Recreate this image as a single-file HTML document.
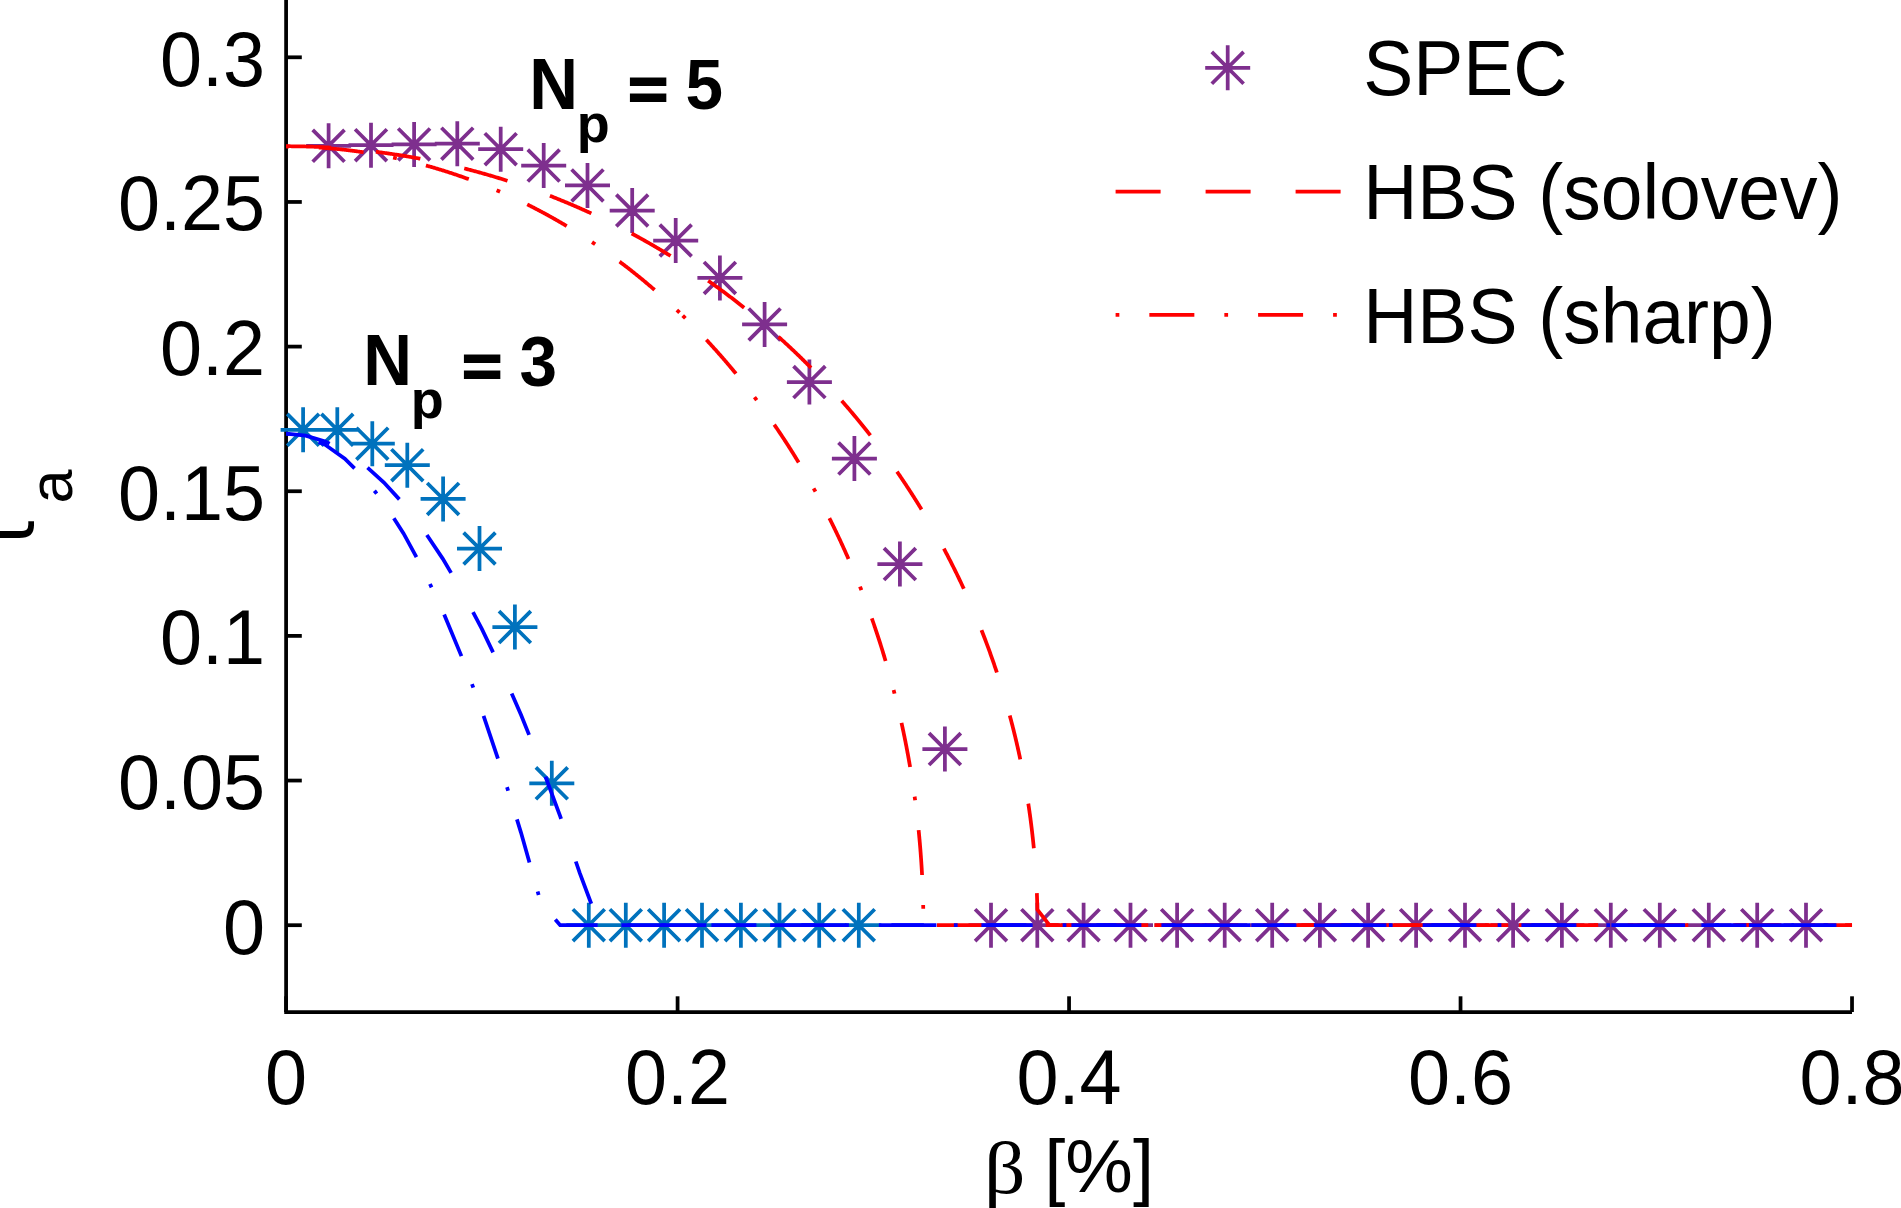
<!DOCTYPE html>
<html lang="en"><head><meta charset="utf-8"><title>iota_a versus beta</title>
<style>
html,body{margin:0;padding:0;background:#fff;}
body{width:1901px;height:1208px;overflow:hidden;}
svg{display:block;}
text{font-family:"Liberation Sans",sans-serif;fill:#000;}
.t{font-size:75px;}
.b{font-size:67.5px;font-weight:bold;}
.sy{font-family:"Liberation Serif",serif;}
</style></head><body>
<svg width="1901" height="1208" viewBox="0 0 1901 1208">
<rect width="1901" height="1208" fill="#fff"/>
<g stroke="#000" stroke-width="3.75" fill="none">
<path d="M286.1 -10V1012"/>
<path d="M284.23 1012H1852.02"/>
<path d="M286.1 1012V996.3"/>
<path d="M677.58 1012V996.3"/>
<path d="M1069.06 1012V996.3"/>
<path d="M1460.54 1012V996.3"/>
<path d="M1852.02 1012V996.3"/>
<path d="M286.1 925.2H301.8"/>
<path d="M286.1 780.55H301.8"/>
<path d="M286.1 635.9H301.8"/>
<path d="M286.1 491.25H301.8"/>
<path d="M286.1 346.6H301.8"/>
<path d="M286.1 201.95H301.8"/>
<path d="M286.1 57.3H301.8"/>
</g>
<text class="t" transform="translate(286.1 1103.6) scale(1.008 1.03)" text-anchor="middle">0</text>
<text class="t" transform="translate(677.58 1103.6) scale(1.008 1.03)" text-anchor="middle">0.2</text>
<text class="t" transform="translate(1069.06 1103.6) scale(1.008 1.03)" text-anchor="middle">0.4</text>
<text class="t" transform="translate(1460.54 1103.6) scale(1.008 1.03)" text-anchor="middle">0.6</text>
<text class="t" transform="translate(1852.02 1103.6) scale(1.008 1.03)" text-anchor="middle">0.8</text>
<text class="t" transform="translate(265 953.5) scale(1.008 1.03)" text-anchor="end">0</text>
<text class="t" transform="translate(265 808.85) scale(1.008 1.03)" text-anchor="end">0.05</text>
<text class="t" transform="translate(265 664.2) scale(1.008 1.03)" text-anchor="end">0.1</text>
<text class="t" transform="translate(265 519.55) scale(1.008 1.03)" text-anchor="end">0.15</text>
<text class="t" transform="translate(265 374.9) scale(1.008 1.03)" text-anchor="end">0.2</text>
<text class="t" transform="translate(265 230.25) scale(1.008 1.03)" text-anchor="end">0.25</text>
<text class="t" transform="translate(265 85.6) scale(1.008 1.03)" text-anchor="end">0.3</text>
<text class="t sy" transform="translate(983.9 1192.6) scale(1.087 1.0)" text-anchor="start">β</text>
<text class="t" transform="translate(1044.2 1191.8) scale(1.014 1.0)" text-anchor="start">[%]</text>
<g transform="translate(33.5 543.9) rotate(-90)">
<text class="t" transform="translate(0 0) scale(1.0 1.0)" text-anchor="start" style="font-family:'DejaVu Sans',sans-serif">ι</text>
<text class="t" transform="translate(40.4 38) scale(1.02 1.02)" text-anchor="start" style="font-size:60px">a</text>
</g>
<path d="M306.1 145.8H351.1M328.6 123.3V168.3M312.69 129.89L344.51 161.71M312.69 161.71L344.51 129.89M348.5 145.2H393.5M371 122.7V167.7M355.09 129.29L386.91 161.11M355.09 161.11L386.91 129.29M391.6 144.4H436.6M414.1 121.9V166.9M398.19 128.49L430.01 160.31M398.19 160.31L430.01 128.49M434.8 143.7H479.8M457.3 121.2V166.2M441.39 127.79L473.21 159.61M441.39 159.61L473.21 127.79M478.2 149.2H523.2M500.7 126.7V171.7M484.79 133.29L516.61 165.11M484.79 165.11L516.61 133.29M521.2 165.6H566.2M543.7 143.1V188.1M527.79 149.69L559.61 181.51M527.79 181.51L559.61 149.69M565 185.4H610M587.5 162.9V207.9M571.59 169.49L603.41 201.31M571.59 201.31L603.41 169.49M609.7 210.5H654.7M632.2 188V233M616.29 194.59L648.11 226.41M616.29 226.41L648.11 194.59M653.2 240.5H698.2M675.7 218V263M659.79 224.59L691.61 256.41M659.79 256.41L691.61 224.59M697.4 277.9H742.4M719.9 255.4V300.4M703.99 261.99L735.81 293.81M703.99 293.81L735.81 261.99M742.1 324.4H787.1M764.6 301.9V346.9M748.69 308.49L780.51 340.31M748.69 340.31L780.51 308.49M786.9 382.1H831.9M809.4 359.6V404.6M793.49 366.19L825.31 398.01M793.49 398.01L825.31 366.19M831.9 458.6H876.9M854.4 436.1V481.1M838.49 442.69L870.31 474.51M838.49 474.51L870.31 442.69M877.4 564.1H922.4M899.9 541.6V586.6M883.99 548.19L915.81 580.01M883.99 580.01L915.81 548.19M922.4 749.1H967.4M944.9 726.6V771.6M928.99 733.19L960.81 765.01M928.99 765.01L960.81 733.19M968.5 925.2H1013.5M991 902.7V947.7M975.09 909.29L1006.91 941.11M975.09 941.11L1006.91 909.29M1014.8 925.2H1059.8M1037.3 902.7V947.7M1021.39 909.29L1053.21 941.11M1021.39 941.11L1053.21 909.29M1061.1 925.2H1106.1M1083.6 902.7V947.7M1067.69 909.29L1099.51 941.11M1067.69 941.11L1099.51 909.29M1108 925.2H1153M1130.5 902.7V947.7M1114.59 909.29L1146.41 941.11M1114.59 941.11L1146.41 909.29M1154.6 925.2H1199.6M1177.1 902.7V947.7M1161.19 909.29L1193.01 941.11M1161.19 941.11L1193.01 909.29M1202.2 925.2H1247.2M1224.7 902.7V947.7M1208.79 909.29L1240.61 941.11M1208.79 941.11L1240.61 909.29M1249.7 925.2H1294.7M1272.2 902.7V947.7M1256.29 909.29L1288.11 941.11M1256.29 941.11L1288.11 909.29M1297.4 925.2H1342.4M1319.9 902.7V947.7M1303.99 909.29L1335.81 941.11M1303.99 941.11L1335.81 909.29M1345.6 925.2H1390.6M1368.1 902.7V947.7M1352.19 909.29L1384.01 941.11M1352.19 941.11L1384.01 909.29M1393.6 925.2H1438.6M1416.1 902.7V947.7M1400.19 909.29L1432.01 941.11M1400.19 941.11L1432.01 909.29M1442.5 925.2H1487.5M1465 902.7V947.7M1449.09 909.29L1480.91 941.11M1449.09 941.11L1480.91 909.29M1490.6 925.2H1535.6M1513.1 902.7V947.7M1497.19 909.29L1529.01 941.11M1497.19 941.11L1529.01 909.29M1539.4 925.2H1584.4M1561.9 902.7V947.7M1545.99 909.29L1577.81 941.11M1545.99 941.11L1577.81 909.29M1588.3 925.2H1633.3M1610.8 902.7V947.7M1594.89 909.29L1626.71 941.11M1594.89 941.11L1626.71 909.29M1637.3 925.2H1682.3M1659.8 902.7V947.7M1643.89 909.29L1675.71 941.11M1643.89 941.11L1675.71 909.29M1686.3 925.2H1731.3M1708.8 902.7V947.7M1692.89 909.29L1724.71 941.11M1692.89 941.11L1724.71 909.29M1734.7 925.2H1779.7M1757.2 902.7V947.7M1741.29 909.29L1773.11 941.11M1741.29 941.11L1773.11 909.29M1783.5 925.2H1828.5M1806 902.7V947.7M1790.09 909.29L1821.91 941.11M1790.09 941.11L1821.91 909.29" stroke="#7e2f8e" stroke-width="3.75" fill="none"/>
<polyline points="286.1,146.23 286.89,146.23 287.67,146.23 288.46,146.23 289.25,146.24 290.04,146.24 290.82,146.25 291.61,146.25 292.4,146.26 293.19,146.27 293.97,146.27 294.76,146.28 295.55,146.29 296.34,146.3 297.12,146.31 297.91,146.33 298.7,146.34 299.49,146.35 300.27,146.37 301.06,146.39 301.85,146.4 302.63,146.42 303.42,146.44 304.21,146.46 305,146.48 305.78,146.5 306.57,146.52 307.36,146.54 308.14,146.57 308.93,146.59 309.72,146.62 310.5,146.64 311.29,146.67 312.08,146.7 312.87,146.73 313.65,146.75 314.44,146.79 315.23,146.82 316.01,146.85 316.8,146.88 317.59,146.92 318.37,146.95 319.16,146.99 319.95,147.02 320.73,147.06 321.52,147.1 322.31,147.14 323.09,147.18 323.88,147.22 324.67,147.26 325.45,147.3 326.24,147.34 327.02,147.39 327.81,147.43 328.6,147.48 329.38,147.52 330.17,147.57 330.95,147.62 331.74,147.67 332.53,147.72 333.31,147.77 334.1,147.82 334.88,147.87 335.67,147.93 336.46,147.98 337.24,148.04 338.03,148.09 338.81,148.15 339.6,148.21 340.38,148.27 341.17,148.33 341.95,148.39 342.74,148.45 343.52,148.51 344.31,148.57 345.09,148.64 345.88,148.7 346.66,148.77 347.45,148.83 348.23,148.9 349.02,148.97 349.8,149.04 350.59,149.1 351.37,149.18 352.16,149.25 352.94,149.32 353.72,149.39 354.51,149.47 355.29,149.54 356.08,149.62 356.86,149.69 357.64,149.77 358.43,149.85 359.21,149.93 360,150.01 360.78,150.09 361.56,150.17 362.35,150.25 363.13,150.33 363.91,150.42 364.7,150.5 365.48,150.59 366.26,150.68 367.04,150.76 367.83,150.85 368.61,150.94 369.39,151.03 370.17,151.12 370.96,151.21 371.74,151.31 372.52,151.4 373.3,151.49 374.09,151.59 374.87,151.69 375.65,151.78 376.43,151.88 377.21,151.98 377.99,152.08 378.78,152.18 379.56,152.28 380.34,152.38 381.12,152.48 381.9,152.59 382.68,152.69 383.46,152.8 384.24,152.9 385.02,153.01 385.8,153.12 386.58,153.23 387.37,153.34 388.15,153.45 388.93,153.56 389.71,153.67 390.48,153.78 391.26,153.9 392.04,154.01 392.82,154.13 393.6,154.24 394.38,154.36 395.16,154.48 395.94,154.6 396.72,154.72 397.5,154.84 398.28,154.96 399.06,155.08 399.83,155.21 400.61,155.33 401.39,155.45 402.17,155.58 402.95,155.71 403.72,155.83 404.5,155.96 405.28,156.09 406.06,156.22 406.83,156.35 407.61,156.48 408.39,156.62 409.16,156.75 409.94,156.88 410.72,157.02 411.49,157.15 412.27,157.29 413.05,157.43 413.82,157.57 414.6,157.71 415.37,157.85 416.15,157.99 416.93,158.13 417.7,158.27 418.48,158.41 419.25,158.56 420.03,158.7 420.8,158.85 421.57,159 422.35,159.14 423.12,159.29 423.9,159.44 424.67,159.59 425.45,159.74 426.22,159.89 426.99,160.05 427.77,160.2 428.54,160.35 429.31,160.51 430.08,160.67 430.86,160.82 431.63,160.98 432.4,161.14 433.17,161.3 433.95,161.46 434.72,161.62 435.49,161.78 436.26,161.94 437.03,162.11 437.8,162.27 438.58,162.44 439.35,162.6 440.12,162.77 440.89,162.94 441.66,163.11 442.43,163.28 443.2,163.45 443.97,163.62 444.74,163.79 445.51,163.96 446.28,164.14 447.05,164.31 447.82,164.49 448.58,164.66 449.35,164.84 450.12,165.02 450.89,165.19 451.66,165.37 452.43,165.55 453.19,165.74 453.96,165.92 454.73,166.1 455.5,166.28 456.26,166.47 457.03,166.65 457.8,166.84 458.56,167.03 459.33,167.21 460.1,167.4 460.86,167.59 461.63,167.78 462.39,167.97 463.16,168.17 463.92,168.36 464.69,168.55 465.45,168.75 466.22,168.94 466.98,169.14 467.75,169.33 468.51,169.53 469.27,169.73 470.04,169.93 470.8,170.13 471.56,170.33 472.33,170.53 473.09,170.74 473.85,170.94 474.61,171.14 475.38,171.35 476.14,171.56 476.9,171.76 477.66,171.97 478.42,172.18 479.18,172.39 479.94,172.6 480.71,172.81 481.47,173.02 482.23,173.23 482.99,173.45 483.75,173.66 484.51,173.88 485.26,174.09 486.02,174.31 486.78,174.53 487.54,174.74 488.3,174.96 489.06,175.18 489.82,175.41 490.57,175.63 491.33,175.85 492.09,176.07 492.85,176.3 493.6,176.52 494.36,176.75 495.12,176.97 495.87,177.2 496.63,177.43 497.38,177.66 498.14,177.89 498.89,178.12 499.65,178.35 500.4,178.58 501.16,178.82 501.91,179.05 502.67,179.29 503.42,179.52 504.17,179.76 504.93,180 505.68,180.23 506.43,180.47 507.19,180.71 507.94,180.95 508.69,181.19 509.44,181.44 510.2,181.68 510.95,181.92 511.7,182.17 512.45,182.41 513.2,182.66 513.95,182.91 514.7,183.15 515.45,183.4 516.2,183.65 516.95,183.9 517.7,184.15 518.45,184.41 519.2,184.66 519.94,184.91 520.69,185.17 521.44,185.42 522.19,185.68 522.94,185.94 523.68,186.19 524.43,186.45 525.18,186.71 525.92,186.97 526.67,187.23 527.41,187.49 528.16,187.76 528.91,188.02 529.65,188.28 530.39,188.55 531.14,188.81 531.88,189.08 532.63,189.35 533.37,189.62 534.11,189.89 534.86,190.16 535.6,190.43 536.34,190.7 537.09,190.97 537.83,191.24 538.57,191.52 539.31,191.79 540.05,192.07 540.79,192.34 541.53,192.62 542.27,192.9 543.01,193.18 543.75,193.46 544.49,193.74 545.23,194.02 545.97,194.3 546.71,194.58 547.45,194.87 548.19,195.15 548.92,195.44 549.66,195.72 550.4,196.01 551.14,196.3 551.87,196.58 552.61,196.87 553.35,197.16 554.08,197.45 554.82,197.75 555.55,198.04 556.29,198.33 557.02,198.62 557.76,198.92 558.49,199.22 559.22,199.51 559.96,199.81 560.69,200.11 561.42,200.41 562.15,200.7 562.89,201 563.62,201.31 564.35,201.61 565.08,201.91 565.81,202.21 566.54,202.52 567.27,202.82 568,203.13 568.73,203.44 569.46,203.74 570.19,204.05 570.92,204.36 571.65,204.67 572.38,204.98 573.11,205.29 573.83,205.6 574.56,205.92 575.29,206.23 576.01,206.55 576.74,206.86 577.47,207.18 578.19,207.49 578.92,207.81 579.64,208.13 580.37,208.45 581.09,208.77 581.81,209.09 582.54,209.41 583.26,209.73 583.98,210.06 584.71,210.38 585.43,210.71 586.15,211.03 586.87,211.36 587.6,211.69 588.32,212.01 589.04,212.34 589.76,212.67 590.48,213 591.2,213.33 591.92,213.66 592.64,214 593.35,214.33 594.07,214.66 594.79,215 595.51,215.34 596.23,215.67 596.94,216.01 597.66,216.35 598.38,216.69 599.09,217.03 599.81,217.37 600.52,217.71 601.24,218.05 601.95,218.39 602.67,218.74 603.38,219.08 604.09,219.43 604.81,219.77 605.52,220.12 606.23,220.46 606.95,220.81 607.66,221.16 608.37,221.51 609.08,221.86 609.79,222.21 610.5,222.57 611.21,222.92 611.92,223.27 612.63,223.63 613.34,223.98 614.05,224.34 614.76,224.69 615.46,225.05 616.17,225.41 616.88,225.77 617.59,226.13 618.29,226.49 619,226.85 619.7,227.21 620.41,227.57 621.11,227.94 621.82,228.3 622.52,228.67 623.23,229.03 623.93,229.4 624.63,229.77 625.34,230.14 626.04,230.5 626.74,230.87 627.44,231.24 628.14,231.62 628.84,231.99 629.54,232.36 630.24,232.73 630.94,233.11 631.64,233.48 632.34,233.86 633.04,234.24 633.74,234.61 634.44,234.99 635.14,235.37 635.83,235.75 636.53,236.13 637.23,236.51 637.92,236.89 638.62,237.27 639.31,237.66 640.01,238.04 640.7,238.43 641.4,238.81 642.09,239.2 642.78,239.59 643.47,239.97 644.17,240.36 644.86,240.75 645.55,241.14 646.24,241.53 646.93,241.92 647.62,242.32 648.31,242.71 649,243.1 649.69,243.5 650.38,243.89 651.07,244.29 651.76,244.69 652.45,245.08 653.13,245.48 653.82,245.88 654.51,246.28 655.19,246.68 655.88,247.08 656.56,247.49 657.25,247.89 657.93,248.29 658.62,248.7 659.3,249.1 659.98,249.51 660.67,249.91 661.35,250.32 662.03,250.73 662.71,251.14 663.39,251.55 664.07,251.96 664.75,252.37 665.43,252.78 666.11,253.19 666.79,253.61 667.47,254.02 668.15,254.43 668.83,254.85 669.5,255.27 670.18,255.68 670.86,256.1 671.53,256.52 672.21,256.94 672.89,257.36 673.56,257.78 674.23,258.2 674.91,258.62 675.58,259.04 676.26,259.47 676.93,259.89 677.6,260.32 678.27,260.74 678.94,261.17 679.61,261.6 680.29,262.02 680.96,262.45 681.63,262.88 682.29,263.31 682.96,263.74 683.63,264.17 684.3,264.61 684.97,265.04 685.63,265.47 686.3,265.91 686.97,266.34 687.63,266.78 688.3,267.21 688.96,267.65 689.63,268.09 690.29,268.53 690.96,268.97 691.62,269.41 692.28,269.85 692.94,270.29 693.6,270.73 694.27,271.18 694.93,271.62 695.59,272.06 696.25,272.51 696.91,272.96 697.57,273.4 698.22,273.85 698.88,274.3 699.54,274.75 700.2,275.2 700.85,275.65 701.51,276.1 702.17,276.55 702.82,277 703.48,277.45 704.13,277.91 704.79,278.36 705.44,278.82 706.09,279.27 706.75,279.73 707.4,280.19 708.05,280.65 708.7,281.1 709.35,281.56 710,282.02 710.65,282.48 711.3,282.95 711.95,283.41 712.6,283.87 713.25,284.34 713.89,284.8 714.54,285.26 715.19,285.73 715.83,286.2 716.48,286.66 717.13,287.13 717.77,287.6 718.41,288.07 719.06,288.54 719.7,289.01 720.34,289.48 720.99,289.95 721.63,290.43 722.27,290.9 722.91,291.37 723.55,291.85 724.19,292.32 724.83,292.8 725.47,293.28 726.11,293.76 726.75,294.23 727.38,294.71 728.02,295.19 728.66,295.67 729.29,296.15 729.93,296.64 730.56,297.12 731.2,297.6 731.83,298.09 732.47,298.57 733.1,299.06 733.73,299.54 734.36,300.03 735,300.52 735.63,301 736.26,301.49 736.89,301.98 737.52,302.47 738.15,302.96 738.78,303.45 739.4,303.95 740.03,304.44 740.66,304.93 741.29,305.43 741.91,305.92 742.54,306.42 743.16,306.91 743.79,307.41 744.41,307.91 745.04,308.41 745.66,308.9 746.28,309.4 746.9,309.9 747.53,310.4 748.15,310.91 748.77,311.41 749.39,311.91 750.01,312.42 750.63,312.92 751.24,313.42 751.86,313.93 752.48,314.44 753.1,314.94 753.71,315.45 754.33,315.96 754.95,316.47 755.56,316.98 756.18,317.49 756.79,318 757.4,318.51 758.02,319.02 758.63,319.54 759.24,320.05 759.85,320.56 760.46,321.08 761.07,321.59 761.68,322.11 762.29,322.63 762.9,323.15 763.51,323.66 764.12,324.18 764.72,324.7 765.33,325.22 765.94,325.74 766.54,326.27 767.15,326.79 767.75,327.31 768.36,327.83 768.96,328.36 769.56,328.88 770.17,329.41 770.77,329.93 771.37,330.46 771.97,330.99 772.57,331.52 773.17,332.05 773.77,332.58 774.37,333.11 774.97,333.64 775.56,334.17 776.16,334.7 776.76,335.23 777.35,335.77 777.95,336.3 778.55,336.83 779.14,337.37 779.73,337.91 780.33,338.44 780.92,338.98 781.51,339.52 782.1,340.06 782.7,340.6 783.29,341.13 783.88,341.68 784.47,342.22 785.05,342.76 785.64,343.3 786.23,343.84 786.82,344.39 787.41,344.93 787.99,345.48 788.58,346.02 789.16,346.57 789.75,347.11 790.33,347.66 790.91,348.21 791.5,348.76 792.08,349.31 792.66,349.86 793.24,350.41 793.82,350.96 794.4,351.51 794.98,352.06 795.56,352.62 796.14,353.17 796.72,353.73 797.3,354.28 797.87,354.84 798.45,355.39 799.03,355.95 799.6,356.51 800.17,357.07 800.75,357.62 801.32,358.18 801.9,358.74 802.47,359.3 803.04,359.87 803.61,360.43 804.18,360.99 804.75,361.55 805.32,362.12 805.89,362.68 806.46,363.25 807.03,363.81 807.59,364.38 808.16,364.94 808.73,365.51 809.29,366.08 809.86,366.65 810.42,367.22 810.98,367.79 811.55,368.36 812.11,368.93 812.67,369.5 813.23,370.07 813.79,370.65 814.35,371.22 814.91,371.79 815.47,372.37 816.03,372.94 816.59,373.52 817.15,374.1 817.7,374.67 818.26,375.25 818.81,375.83 819.37,376.41 819.92,376.99 820.48,377.57 821.03,378.15 821.58,378.73 822.14,379.31 822.69,379.9 823.24,380.48 823.79,381.06 824.34,381.65 824.89,382.23 825.44,382.82 825.98,383.4 826.53,383.99 827.08,384.58 827.62,385.17 828.17,385.76 828.72,386.34 829.26,386.93 829.8,387.52 830.35,388.12 830.89,388.71 831.43,389.3 831.97,389.89 832.51,390.49 833.05,391.08 833.59,391.67 834.13,392.27 834.67,392.86 835.21,393.46 835.75,394.06 836.28,394.65 836.82,395.25 837.35,395.85 837.89,396.45 838.42,397.05 838.96,397.65 839.49,398.25 840.02,398.85 840.55,399.45 841.08,400.06 841.61,400.66 842.14,401.26 842.67,401.87 843.2,402.47 843.73,403.08 844.26,403.68 844.78,404.29 845.31,404.9 845.84,405.51 846.36,406.11 846.89,406.72 847.41,407.33 847.93,407.94 848.46,408.55 848.98,409.17 849.5,409.78 850.02,410.39 850.54,411 851.06,411.62 851.58,412.23 852.1,412.84 852.61,413.46 853.13,414.07 853.65,414.69 854.16,415.31 854.68,415.93 855.19,416.54 855.71,417.16 856.22,417.78 856.73,418.4 857.24,419.02 857.76,419.64 858.27,420.26 858.78,420.88 859.29,421.51 859.79,422.13 860.3,422.75 860.81,423.38 861.32,424 861.82,424.63 862.33,425.25 862.83,425.88 863.34,426.51 863.84,427.13 864.35,427.76 864.85,428.39 865.35,429.02 865.85,429.65 866.35,430.28 866.85,430.91 867.35,431.54 867.85,432.17 868.35,432.8 868.85,433.44 869.34,434.07 869.84,434.7 870.33,435.34 870.83,435.97 871.32,436.61 871.82,437.24 872.31,437.88 872.8,438.52 873.29,439.16 873.78,439.79 874.27,440.43 874.76,441.07 875.25,441.71 875.74,442.35 876.23,442.99 876.72,443.63 877.2,444.28 877.69,444.92 878.17,445.56 878.66,446.2 879.14,446.85 879.63,447.49 880.11,448.14 880.59,448.78 881.07,449.43 881.55,450.08 882.03,450.72 882.51,451.37 882.99,452.02 883.47,452.67 883.94,453.32 884.42,453.97 884.9,454.62 885.37,455.27 885.85,455.92 886.32,456.57 886.79,457.22 887.27,457.88 887.74,458.53 888.21,459.18 888.68,459.84 889.15,460.49 889.62,461.15 890.09,461.8 890.56,462.46 891.03,463.12 891.49,463.77 891.96,464.43 892.42,465.09 892.89,465.75 893.35,466.41 893.82,467.07 894.28,467.73 894.74,468.39 895.2,469.05 895.66,469.71 896.12,470.38 896.58,471.04 897.04,471.7 897.5,472.37 897.96,473.03 898.41,473.7 898.87,474.36 899.32,475.03 899.78,475.69 900.23,476.36 900.69,477.03 901.14,477.7 901.59,478.36 902.04,479.03 902.49,479.7 902.94,480.37 903.39,481.04 903.84,481.71 904.29,482.39 904.74,483.06 905.18,483.73 905.63,484.4 906.07,485.08 906.52,485.75 906.96,486.42 907.41,487.1 907.85,487.77 908.29,488.45 908.73,489.12 909.17,489.8 909.61,490.48 910.05,491.16 910.49,491.83 910.93,492.51 911.36,493.19 911.8,493.87 912.24,494.55 912.67,495.23 913.1,495.91 913.54,496.59 913.97,497.28 914.4,497.96 914.83,498.64 915.27,499.32 915.7,500.01 916.13,500.69 916.55,501.38 916.98,502.06 917.41,502.75 917.84,503.43 918.26,504.12 918.69,504.81 919.11,505.49 919.54,506.18 919.96,506.87 920.38,507.56 920.8,508.25 921.22,508.94 921.65,509.63 922.06,510.32 922.48,511.01 922.9,511.7 923.32,512.39 923.74,513.09 924.15,513.78 924.57,514.47 924.98,515.17 925.4,515.86 925.81,516.56 926.22,517.25 926.64,517.95 927.05,518.64 927.46,519.34 927.87,520.04 928.28,520.73 928.69,521.43 929.09,522.13 929.5,522.83 929.91,523.53 930.31,524.23 930.72,524.93 931.12,525.63 931.52,526.33 931.93,527.03 932.33,527.73 932.73,528.43 933.13,529.14 933.53,529.84 933.93,530.54 934.33,531.25 934.73,531.95 935.12,532.66 935.52,533.36 935.92,534.07 936.31,534.77 936.71,535.48 937.1,536.19 937.49,536.89 937.88,537.6 938.28,538.31 938.67,539.02 939.06,539.73 939.45,540.44 939.83,541.15 940.22,541.86 940.61,542.57 941,543.28 941.38,543.99 941.77,544.7 942.15,545.42 942.53,546.13 942.92,546.84 943.3,547.56 943.68,548.27 944.06,548.98 944.44,549.7 944.82,550.42 945.2,551.13 945.58,551.85 945.95,552.56 946.33,553.28 946.71,554 947.08,554.72 947.45,555.43 947.83,556.15 948.2,556.87 948.57,557.59 948.94,558.31 949.31,559.03 949.68,559.75 950.05,560.47 950.42,561.19 950.79,561.92 951.16,562.64 951.52,563.36 951.89,564.08 952.25,564.81 952.62,565.53 952.98,566.26 953.34,566.98 953.7,567.71 954.06,568.43 954.42,569.16 954.78,569.88 955.14,570.61 955.5,571.34 955.86,572.06 956.21,572.79 956.57,573.52 956.93,574.25 957.28,574.98 957.63,575.71 957.99,576.44 958.34,577.17 958.69,577.9 959.04,578.63 959.39,579.36 959.74,580.09 960.09,580.82 960.44,581.56 960.78,582.29 961.13,583.02 961.48,583.75 961.82,584.49 962.16,585.22 962.51,585.96 962.85,586.69 963.19,587.43 963.53,588.16 963.87,588.9 964.21,589.64 964.55,590.37 964.89,591.11 965.23,591.85 965.56,592.59 965.9,593.32 966.23,594.06 966.57,594.8 966.9,595.54 967.24,596.28 967.57,597.02 967.9,597.76 968.23,598.5 968.56,599.24 968.89,599.99 969.22,600.73 969.54,601.47 969.87,602.21 970.2,602.96 970.52,603.7 970.85,604.44 971.17,605.19 971.49,605.93 971.82,606.68 972.14,607.42 972.46,608.17 972.78,608.91 973.1,609.66 973.42,610.4 973.73,611.15 974.05,611.9 974.37,612.65 974.68,613.39 975,614.14 975.31,614.89 975.63,615.64 975.94,616.39 976.25,617.14 976.56,617.89 976.87,618.64 977.18,619.39 977.49,620.14 977.8,620.89 978.1,621.64 978.41,622.39 978.72,623.15 979.02,623.9 979.33,624.65 979.63,625.41 979.93,626.16 980.23,626.91 980.54,627.67 980.84,628.42 981.14,629.18 981.43,629.93 981.73,630.69 982.03,631.44 982.33,632.2 982.62,632.96 982.92,633.71 983.21,634.47 983.5,635.23 983.8,635.98 984.09,636.74 984.38,637.5 984.67,638.26 984.96,639.02 985.25,639.78 985.54,640.54 985.82,641.3 986.11,642.06 986.4,642.82 986.68,643.58 986.97,644.34 987.25,645.1 987.53,645.86 987.81,646.63 988.1,647.39 988.38,648.15 988.66,648.92 988.93,649.68 989.21,650.44 989.49,651.21 989.77,651.97 990.04,652.73 990.32,653.5 990.59,654.26 990.87,655.03 991.14,655.8 991.41,656.56 991.68,657.33 991.95,658.1 992.22,658.86 992.49,659.63 992.76,660.4 993.03,661.16 993.29,661.93 993.56,662.7 993.82,663.47 994.09,664.24 994.35,665.01 994.61,665.78 994.87,666.55 995.14,667.32 995.4,668.09 995.66,668.86 995.91,669.63 996.17,670.4 996.43,671.17 996.69,671.94 996.94,672.72 997.2,673.49 997.45,674.26 997.7,675.03 997.96,675.81 998.21,676.58 998.46,677.35 998.71,678.13 998.96,678.9 999.21,679.68 999.45,680.45 999.7,681.23 999.95,682 1000.19,682.78 1000.44,683.55 1000.68,684.33 1000.92,685.11 1001.17,685.88 1001.41,686.66 1001.65,687.44 1001.89,688.21 1002.13,688.99 1002.37,689.77 1002.6,690.55 1002.84,691.33 1003.08,692.11 1003.31,692.88 1003.55,693.66 1003.78,694.44 1004.01,695.22 1004.25,696 1004.48,696.78 1004.71,697.56 1004.94,698.34 1005.17,699.13 1005.39,699.91 1005.62,700.69 1005.85,701.47 1006.07,702.25 1006.3,703.03 1006.52,703.82 1006.75,704.6 1006.97,705.38 1007.19,706.17 1007.41,706.95 1007.63,707.73 1007.85,708.52 1008.07,709.3 1008.29,710.09 1008.5,710.87 1008.72,711.66 1008.94,712.44 1009.15,713.23 1009.36,714.01 1009.58,714.8 1009.79,715.58 1010,716.37 1010.21,717.16 1010.42,717.94 1010.63,718.73 1010.84,719.52 1011.05,720.3 1011.25,721.09 1011.46,721.88 1011.66,722.67 1011.87,723.46 1012.07,724.25 1012.28,725.03 1012.48,725.82 1012.68,726.61 1012.88,727.4 1013.08,728.19 1013.28,728.98 1013.48,729.77 1013.67,730.56 1013.87,731.35 1014.06,732.14 1014.26,732.93 1014.45,733.72 1014.65,734.52 1014.84,735.31 1015.03,736.1 1015.22,736.89 1015.41,737.68 1015.6,738.48 1015.79,739.27 1015.98,740.06 1016.16,740.85 1016.35,741.65 1016.53,742.44 1016.72,743.23 1016.9,744.03 1017.08,744.82 1017.27,745.62 1017.45,746.41 1017.63,747.21 1017.81,748 1017.99,748.79 1018.16,749.59 1018.34,750.39 1018.52,751.18 1018.69,751.98 1018.87,752.77 1019.04,753.57 1019.21,754.37 1019.39,755.16 1019.56,755.96 1019.73,756.76 1019.9,757.55 1020.07,758.35 1020.24,759.15 1020.4,759.94 1020.57,760.74 1020.74,761.54 1020.9,762.34 1021.06,763.14 1021.23,763.94 1021.39,764.73 1021.55,765.53 1021.71,766.33 1021.87,767.13 1022.03,767.93 1022.19,768.73 1022.35,769.53 1022.51,770.33 1022.66,771.13 1022.82,771.93 1022.97,772.73 1023.13,773.53 1023.28,774.33 1023.43,775.13 1023.58,775.93 1023.73,776.73 1023.88,777.54 1024.03,778.34 1024.18,779.14 1024.33,779.94 1024.47,780.74 1024.62,781.55 1024.76,782.35 1024.91,783.15 1025.05,783.95 1025.19,784.76 1025.33,785.56 1025.48,786.36 1025.62,787.17 1025.75,787.97 1025.89,788.77 1026.03,789.58 1026.17,790.38 1026.3,791.18 1026.44,791.99 1026.57,792.79 1026.71,793.6 1026.84,794.4 1026.97,795.21 1027.1,796.01 1027.23,796.82 1027.36,797.62 1027.49,798.43 1027.62,799.23 1027.74,800.04 1027.87,800.84 1028,801.65 1028.12,802.46 1028.24,803.26 1028.37,804.07 1028.49,804.87 1028.61,805.68 1028.73,806.49 1028.85,807.29 1028.97,808.1 1029.09,808.91 1029.2,809.72 1029.32,810.52 1029.44,811.33 1029.55,812.14 1029.66,812.95 1029.78,813.75 1029.89,814.56 1030,815.37 1030.11,816.18 1030.22,816.99 1030.33,817.79 1030.44,818.6 1030.55,819.41 1030.65,820.22 1030.76,821.03 1030.86,821.84 1030.97,822.65 1031.07,823.46 1031.17,824.27 1031.27,825.08 1031.37,825.89 1031.47,826.69 1031.57,827.5 1031.67,828.31 1031.77,829.12 1031.87,829.93 1031.96,830.74 1032.06,831.55 1032.15,832.37 1032.24,833.18 1032.34,833.99 1032.43,834.8 1032.52,835.61 1032.61,836.42 1032.7,837.23 1032.79,838.04 1032.88,838.85 1032.96,839.66 1033.05,840.47 1033.13,841.29 1033.22,842.1 1033.3,842.91 1033.38,843.72 1033.47,844.53 1033.55,845.35 1033.63,846.16 1033.71,846.97 1033.79,847.78 1033.86,848.59 1033.94,849.41 1034.02,850.22 1034.09,851.03 1034.17,851.84 1034.24,852.66 1034.31,853.47 1034.39,854.28 1034.46,855.1 1034.53,855.91 1034.6,856.72 1034.67,857.53 1034.73,858.35 1034.8,859.16 1034.87,859.97 1034.93,860.79 1035,861.6 1035.06,862.41 1035.13,863.23 1035.19,864.04 1035.25,864.86 1035.31,865.67 1035.37,866.48 1035.43,867.3 1035.49,868.11 1035.54,868.93 1035.6,869.74 1035.66,870.55 1035.71,871.37 1035.76,872.18 1035.82,873 1035.87,873.81 1035.92,874.63 1035.97,875.44 1036.02,876.26 1036.07,877.07 1036.12,877.88 1036.17,878.7 1036.21,879.51 1036.26,880.33 1036.3,881.14 1036.35,881.96 1036.39,882.77 1036.43,883.59 1036.48,884.4 1036.52,885.22 1036.56,886.04 1036.6,886.85 1036.63,887.67 1036.67,888.48 1036.71,889.3 1036.74,890.11 1036.78,890.93 1036.81,891.74 1036.85,892.56 1036.88,893.37 1036.91,894.19 1036.94,895.01 1036.97,895.82 1037,896.64 1037.03,897.45 1037.06,898.27 1037.08,899.08 1037.11,899.9 1037.14,900.72 1037.16,901.53 1037.18,902.35 1037.21,903.16 1037.23,903.98 1037.25,904.8 1037.27,905.61 1037.29,906.43 1037.31,907.24 1037.32,908.06 1037.34,908.88 1037.36,909.69 1049.49,925.2 1852.02,925.2" fill="none" stroke="#f00" stroke-width="3.75" stroke-dasharray="45 45"/>
<polyline points="286.1,146.52 286.77,146.52 287.44,146.52 288.1,146.52 288.77,146.53 289.44,146.53 290.11,146.54 290.77,146.54 291.44,146.55 292.11,146.55 292.78,146.56 293.45,146.57 294.11,146.58 294.78,146.59 295.45,146.6 296.12,146.62 296.78,146.63 297.45,146.64 298.12,146.66 298.79,146.67 299.46,146.69 300.12,146.71 300.79,146.73 301.46,146.75 302.13,146.77 302.79,146.79 303.46,146.81 304.13,146.83 304.8,146.86 305.46,146.88 306.13,146.9 306.8,146.93 307.47,146.96 308.13,146.99 308.8,147.01 309.47,147.04 310.14,147.07 310.8,147.11 311.47,147.14 312.14,147.17 312.8,147.2 313.47,147.24 314.14,147.27 314.81,147.31 315.47,147.35 316.14,147.39 316.81,147.42 317.47,147.46 318.14,147.5 318.81,147.55 319.48,147.59 320.14,147.63 320.81,147.68 321.48,147.72 322.14,147.77 322.81,147.81 323.48,147.86 324.14,147.91 324.81,147.96 325.48,148.01 326.14,148.06 326.81,148.11 327.48,148.16 328.14,148.22 328.81,148.27 329.47,148.33 330.14,148.38 330.81,148.44 331.47,148.5 332.14,148.55 332.81,148.61 333.47,148.67 334.14,148.74 334.8,148.8 335.47,148.86 336.13,148.92 336.8,148.99 337.47,149.05 338.13,149.12 338.8,149.19 339.46,149.25 340.13,149.32 340.79,149.39 341.46,149.46 342.12,149.53 342.79,149.61 343.45,149.68 344.12,149.75 344.78,149.83 345.45,149.9 346.11,149.98 346.78,150.06 347.44,150.14 348.11,150.21 348.77,150.29 349.44,150.38 350.1,150.46 350.77,150.54 351.43,150.62 352.1,150.71 352.76,150.79 353.42,150.88 354.09,150.96 354.75,151.05 355.42,151.14 356.08,151.23 356.74,151.32 357.41,151.41 358.07,151.5 358.73,151.59 359.4,151.69 360.06,151.78 360.72,151.88 361.39,151.97 362.05,152.07 362.71,152.17 363.38,152.27 364.04,152.37 364.7,152.47 365.36,152.57 366.03,152.67 366.69,152.77 367.35,152.87 368.01,152.98 368.68,153.08 369.34,153.19 370,153.3 370.66,153.41 371.32,153.51 371.99,153.62 372.65,153.73 373.31,153.85 373.97,153.96 374.63,154.07 375.29,154.18 375.95,154.3 376.62,154.41 377.28,154.53 377.94,154.65 378.6,154.77 379.26,154.88 379.92,155 380.58,155.12 381.24,155.25 381.9,155.37 382.56,155.49 383.22,155.62 383.88,155.74 384.54,155.87 385.2,155.99 385.86,156.12 386.52,156.25 387.18,156.38 387.84,156.51 388.5,156.64 389.16,156.77 389.82,156.9 390.47,157.03 391.13,157.17 391.79,157.3 392.45,157.44 393.11,157.58 393.77,157.71 394.43,157.85 395.08,157.99 395.74,158.13 396.4,158.27 397.06,158.41 397.71,158.56 398.37,158.7 399.03,158.84 399.69,158.99 400.34,159.13 401,159.28 401.66,159.43 402.31,159.58 402.97,159.73 403.63,159.88 404.28,160.03 404.94,160.18 405.6,160.33 406.25,160.48 406.91,160.64 407.56,160.79 408.22,160.95 408.87,161.11 409.53,161.26 410.18,161.42 410.84,161.58 411.49,161.74 412.15,161.9 412.8,162.06 413.46,162.23 414.11,162.39 414.77,162.56 415.42,162.72 416.07,162.89 416.73,163.05 417.38,163.22 418.03,163.39 418.69,163.56 419.34,163.73 419.99,163.9 420.65,164.07 421.3,164.24 421.95,164.42 422.6,164.59 423.26,164.77 423.91,164.94 424.56,165.12 425.21,165.3 425.86,165.48 426.51,165.66 427.17,165.84 427.82,166.02 428.47,166.2 429.12,166.38 429.77,166.57 430.42,166.75 431.07,166.93 431.72,167.12 432.37,167.31 433.02,167.5 433.67,167.68 434.32,167.87 434.97,168.06 435.62,168.25 436.27,168.45 436.92,168.64 437.57,168.83 438.21,169.03 438.86,169.22 439.51,169.42 440.16,169.62 440.81,169.81 441.45,170.01 442.1,170.21 442.75,170.41 443.4,170.61 444.04,170.81 444.69,171.02 445.34,171.22 445.98,171.42 446.63,171.63 447.28,171.84 447.92,172.04 448.57,172.25 449.21,172.46 449.86,172.67 450.51,172.88 451.15,173.09 451.8,173.3 452.44,173.51 453.08,173.73 453.73,173.94 454.37,174.16 455.02,174.37 455.66,174.59 456.3,174.81 456.95,175.02 457.59,175.24 458.23,175.46 458.88,175.68 459.52,175.91 460.16,176.13 460.81,176.35 461.45,176.57 462.09,176.8 462.73,177.03 463.37,177.25 464.01,177.48 464.65,177.71 465.3,177.94 465.94,178.17 466.58,178.4 467.22,178.63 467.86,178.86 468.5,179.09 469.14,179.33 469.78,179.56 470.42,179.8 471.06,180.04 471.69,180.27 472.33,180.51 472.97,180.75 473.61,180.99 474.25,181.23 474.89,181.47 475.52,181.71 476.16,181.96 476.8,182.2 477.44,182.44 478.07,182.69 478.71,182.94 479.35,183.18 479.98,183.43 480.62,183.68 481.25,183.93 481.89,184.18 482.53,184.43 483.16,184.68 483.8,184.93 484.43,185.19 485.06,185.44 485.7,185.7 486.33,185.95 486.97,186.21 487.6,186.47 488.23,186.73 488.87,186.99 489.5,187.25 490.13,187.51 490.77,187.77 491.4,188.03 492.03,188.29 492.66,188.56 493.29,188.82 493.93,189.09 494.56,189.35 495.19,189.62 495.82,189.89 496.45,190.16 497.08,190.43 497.71,190.7 498.34,190.97 498.97,191.24 499.6,191.52 500.23,191.79 500.86,192.06 501.48,192.34 502.11,192.62 502.74,192.89 503.37,193.17 504,193.45 504.62,193.73 505.25,194.01 505.88,194.29 506.5,194.57 507.13,194.85 507.76,195.14 508.38,195.42 509.01,195.71 509.63,195.99 510.26,196.28 510.88,196.57 511.51,196.85 512.13,197.14 512.76,197.43 513.38,197.72 514.01,198.02 514.63,198.31 515.25,198.6 515.88,198.89 516.5,199.19 517.12,199.48 517.74,199.78 518.37,200.08 518.99,200.38 519.61,200.67 520.23,200.97 520.85,201.27 521.47,201.57 522.09,201.88 522.71,202.18 523.33,202.48 523.95,202.79 524.57,203.09 525.19,203.4 525.81,203.7 526.43,204.01 527.05,204.32 527.66,204.63 528.28,204.94 528.9,205.25 529.52,205.56 530.13,205.87 530.75,206.18 531.37,206.5 531.98,206.81 532.6,207.13 533.22,207.44 533.83,207.76 534.45,208.08 535.06,208.4 535.68,208.72 536.29,209.04 536.9,209.36 537.52,209.68 538.13,210 538.74,210.32 539.36,210.65 539.97,210.97 540.58,211.3 541.2,211.62 541.81,211.95 542.42,212.28 543.03,212.61 543.64,212.94 544.25,213.27 544.86,213.6 545.47,213.93 546.08,214.26 546.69,214.59 547.3,214.93 547.91,215.26 548.52,215.6 549.13,215.94 549.73,216.27 550.34,216.61 550.95,216.95 551.56,217.29 552.16,217.63 552.77,217.97 553.38,218.31 553.98,218.65 554.59,219 555.2,219.34 555.8,219.69 556.41,220.03 557.01,220.38 557.61,220.73 558.22,221.07 558.82,221.42 559.43,221.77 560.03,222.12 560.63,222.47 561.23,222.83 561.84,223.18 562.44,223.53 563.04,223.89 563.64,224.24 564.24,224.6 564.84,224.95 565.44,225.31 566.04,225.67 566.64,226.03 567.24,226.39 567.84,226.75 568.44,227.11 569.04,227.47 569.64,227.83 570.24,228.2 570.83,228.56 571.43,228.93 572.03,229.29 572.62,229.66 573.22,230.03 573.82,230.39 574.41,230.76 575.01,231.13 575.6,231.5 576.2,231.87 576.79,232.25 577.39,232.62 577.98,232.99 578.57,233.37 579.17,233.74 579.76,234.12 580.35,234.49 580.94,234.87 581.54,235.25 582.13,235.63 582.72,236.01 583.31,236.39 583.9,236.77 584.49,237.15 585.08,237.53 585.67,237.91 586.26,238.3 586.85,238.68 587.44,239.07 588.02,239.45 588.61,239.84 589.2,240.23 589.79,240.62 590.37,241.01 590.96,241.4 591.55,241.79 592.13,242.18 592.72,242.57 593.3,242.96 593.89,243.36 594.47,243.75 595.06,244.15 595.64,244.54 596.23,244.94 596.81,245.34 597.39,245.74 597.97,246.13 598.56,246.53 599.14,246.93 599.72,247.34 600.3,247.74 600.88,248.14 601.46,248.54 602.04,248.95 602.62,249.35 603.2,249.76 603.78,250.16 604.36,250.57 604.94,250.98 605.52,251.39 606.09,251.8 606.67,252.21 607.25,252.62 607.82,253.03 608.4,253.44 608.98,253.86 609.55,254.27 610.13,254.68 610.7,255.1 611.28,255.51 611.85,255.93 612.43,256.35 613,256.77 613.57,257.19 614.14,257.61 614.72,258.03 615.29,258.45 615.86,258.87 616.43,259.29 617,259.71 617.57,260.14 618.14,260.56 618.71,260.99 619.28,261.42 619.85,261.84 620.42,262.27 620.99,262.7 621.56,263.13 622.12,263.56 622.69,263.99 623.26,264.42 623.82,264.85 624.39,265.28 624.96,265.72 625.52,266.15 626.09,266.59 626.65,267.02 627.22,267.46 627.78,267.9 628.34,268.33 628.91,268.77 629.47,269.21 630.03,269.65 630.59,270.09 631.16,270.53 631.72,270.98 632.28,271.42 632.84,271.86 633.4,272.31 633.96,272.75 634.52,273.2 635.08,273.64 635.64,274.09 636.19,274.54 636.75,274.99 637.31,275.44 637.87,275.89 638.42,276.34 638.98,276.79 639.53,277.24 640.09,277.69 640.65,278.15 641.2,278.6 641.75,279.06 642.31,279.51 642.86,279.97 643.41,280.43 643.97,280.88 644.52,281.34 645.07,281.8 645.62,282.26 646.17,282.72 646.73,283.18 647.28,283.65 647.83,284.11 648.38,284.57 648.92,285.04 649.47,285.5 650.02,285.97 650.57,286.43 651.12,286.9 651.67,287.37 652.21,287.84 652.76,288.31 653.3,288.78 653.85,289.25 654.4,289.72 654.94,290.19 655.48,290.66 656.03,291.14 656.57,291.61 657.12,292.08 657.66,292.56 658.2,293.04 658.74,293.51 659.28,293.99 659.82,294.47 660.37,294.95 660.91,295.43 661.45,295.91 661.99,296.39 662.52,296.87 663.06,297.35 663.6,297.83 664.14,298.32 664.68,298.8 665.21,299.29 665.75,299.77 666.29,300.26 666.82,300.75 667.36,301.24 667.89,301.72 668.43,302.21 668.96,302.7 669.49,303.19 670.03,303.68 670.56,304.18 671.09,304.67 671.62,305.16 672.16,305.66 672.69,306.15 673.22,306.65 673.75,307.14 674.28,307.64 674.81,308.14 675.34,308.63 675.87,309.13 676.39,309.63 676.92,310.13 677.45,310.63 677.98,311.13 678.5,311.64 679.03,312.14 679.55,312.64 680.08,313.15 680.6,313.65 681.13,314.16 681.65,314.66 682.17,315.17 682.7,315.68" fill="none" stroke="#f00" stroke-width="3.75" stroke-dasharray="3.75 30 45 30" stroke-dashoffset="1"/>
<polyline points="682.7,315.68 683.22,316.19 683.74,316.69 684.26,317.2 684.79,317.71 685.31,318.22 685.83,318.74 686.35,319.25 686.87,319.76 687.38,320.27 687.9,320.79 688.42,321.3 688.94,321.82 689.46,322.34 689.97,322.85 690.49,323.37 691.01,323.89 691.52,324.41 692.04,324.93 692.55,325.45 693.06,325.97 693.58,326.49 694.09,327.01 694.6,327.53 695.12,328.06 695.63,328.58 696.14,329.1 696.65,329.63 697.16,330.16 697.67,330.68 698.18,331.21 698.69,331.74 699.2,332.27 699.71,332.8 700.22,333.33 700.72,333.86 701.23,334.39 701.74,334.92 702.24,335.45 702.75,335.98 703.25,336.52 703.76,337.05 704.26,337.59 704.77,338.12 705.27,338.66 705.77,339.2 706.27,339.74 706.78,340.27 707.28,340.81 707.78,341.35 708.28,341.89 708.78,342.43 709.28,342.97 709.78,343.52 710.28,344.06 710.77,344.6 711.27,345.15 711.77,345.69 712.27,346.24 712.76,346.78 713.26,347.33 713.75,347.88 714.25,348.42 714.74,348.97 715.24,349.52 715.73,350.07 716.22,350.62 716.72,351.17 717.21,351.73 717.7,352.28 718.19,352.83 718.68,353.38 719.17,353.94 719.66,354.49 720.15,355.05 720.64,355.6 721.13,356.16 721.61,356.72 722.1,357.28 722.59,357.83 723.08,358.39 723.56,358.95 724.05,359.51 724.53,360.08 725.02,360.64 725.5,361.2 725.98,361.76 726.47,362.33 726.95,362.89 727.43,363.45 727.91,364.02 728.39,364.59 728.87,365.15 729.35,365.72 729.83,366.29 730.31,366.86 730.79,367.43 731.27,368 731.75,368.57 732.22,369.14 732.7,369.71 733.18,370.28 733.65,370.85 734.13,371.43 734.6,372 735.08,372.57 735.55,373.15 736.02,373.73 736.5,374.3 736.97,374.88 737.44,375.46 737.91,376.03 738.38,376.61 738.85,377.19 739.32,377.77 739.79,378.35 740.26,378.93 740.73,379.52 741.2,380.1 741.66,380.68 742.13,381.27 742.6,381.85 743.06,382.43 743.53,383.02 743.99,383.61 744.46,384.19 744.92,384.78 745.38,385.37 745.85,385.96 746.31,386.54 746.77,387.13 747.23,387.72 747.69,388.31 748.15,388.91 748.61,389.5 749.07,390.09 749.53,390.68 749.99,391.28 750.45,391.87 750.9,392.47 751.36,393.06 751.82,393.66 752.27,394.25 752.73,394.85 753.18,395.45 753.63,396.05 754.09,396.65 754.54,397.25 754.99,397.85 755.45,398.45 755.9,399.05 756.35,399.65 756.8,400.25 757.25,400.86 757.7,401.46 758.15,402.06 758.6,402.67 759.04,403.27 759.49,403.88 759.94,404.48 760.38,405.09 760.83,405.7 761.27,406.31 761.72,406.92 762.16,407.53 762.61,408.14 763.05,408.75 763.49,409.36 763.94,409.97 764.38,410.58 764.82,411.19 765.26,411.81 765.7,412.42 766.14,413.03 766.58,413.65 767.02,414.26 767.45,414.88 767.89,415.5 768.33,416.11 768.76,416.73 769.2,417.35 769.64,417.97 770.07,418.59 770.5,419.21 770.94,419.83 771.37,420.45 771.8,421.07 772.24,421.69 772.67,422.32 773.1,422.94 773.53,423.56 773.96,424.19 774.39,424.81 774.82,425.44 775.25,426.06 775.67,426.69 776.1,427.32 776.53,427.95 776.95,428.57 777.38,429.2 777.8,429.83 778.23,430.46 778.65,431.09 779.08,431.72 779.5,432.35 779.92,432.99 780.34,433.62 780.76,434.25 781.19,434.89 781.61,435.52 782.03,436.16 782.44,436.79 782.86,437.43 783.28,438.06 783.7,438.7 784.12,439.34 784.53,439.97 784.95,440.61 785.36,441.25 785.78,441.89 786.19,442.53 786.61,443.17 787.02,443.81 787.43,444.45 787.84,445.1 788.26,445.74 788.67,446.38 789.08,447.03 789.49,447.67 789.9,448.32 790.3,448.96 790.71,449.61 791.12,450.25 791.53,450.9 791.93,451.55 792.34,452.2 792.74,452.84 793.15,453.49 793.55,454.14 793.96,454.79 794.36,455.44 794.76,456.09 795.17,456.75 795.57,457.4 795.97,458.05 796.37,458.7 796.77,459.36 797.17,460.01 797.57,460.67 797.96,461.32 798.36,461.98 798.76,462.63 799.15,463.29 799.55,463.95 799.95,464.6 800.34,465.26 800.73,465.92 801.13,466.58 801.52,467.24 801.91,467.9 802.31,468.56 802.7,469.22 803.09,469.88 803.48,470.55 803.87,471.21 804.26,471.87 804.65,472.53 805.03,473.2 805.42,473.86 805.81,474.53 806.19,475.19 806.58,475.86 806.96,476.53 807.35,477.19 807.73,477.86 808.12,478.53 808.5,479.2 808.88,479.87 809.26,480.54 809.64,481.21 810.02,481.88 810.4,482.55 810.78,483.22 811.16,483.89 811.54,484.57 811.92,485.24 812.3,485.91 812.67,486.59 813.05,487.26 813.42,487.94 813.8,488.61 814.17,489.29 814.55,489.96 814.92,490.64 815.29,491.32 815.66,492 816.03,492.67 816.4,493.35 816.77,494.03 817.14,494.71 817.51,495.39 817.88,496.07 818.25,496.75 818.62,497.43 818.98,498.12 819.35,498.8 819.71,499.48 820.08,500.17 820.44,500.85 820.81,501.53 821.17,502.22 821.53,502.9 821.89,503.59 822.26,504.28 822.62,504.96 822.98,505.65 823.34,506.34 823.69,507.03 824.05,507.71 824.41,508.4 824.77,509.09 825.12,509.78 825.48,510.47 825.84,511.16 826.19,511.86 826.54,512.55 826.9,513.24 827.25,513.93 827.6,514.63 827.96,515.32 828.31,516.01 828.66,516.71 829.01,517.4 829.36,518.1 829.71,518.79 830.05,519.49 830.4,520.19 830.75,520.88 831.1,521.58 831.44,522.28 831.79,522.98 832.13,523.68 832.48,524.38 832.82,525.08 833.16,525.78 833.5,526.48 833.85,527.18 834.19,527.88 834.53,528.58 834.87,529.28 835.21,529.99 835.54,530.69 835.88,531.39 836.22,532.1 836.56,532.8 836.89,533.51 837.23,534.21 837.56,534.92 837.9,535.62 838.23,536.33 838.57,537.04 838.9,537.75 839.23,538.45 839.56,539.16 839.89,539.87 840.22,540.58 840.55,541.29 840.88,542 841.21,542.71 841.54,543.42 841.86,544.13 842.19,544.85 842.52,545.56 842.84,546.27 843.17,546.98 843.49,547.7 843.81,548.41 844.14,549.12 844.46,549.84 844.78,550.55 845.1,551.27 845.42,551.99 845.74,552.7 846.06,553.42 846.38,554.14 846.7,554.85 847.01,555.57 847.33,556.29 847.65,557.01 847.96,557.73 848.28,558.45 848.59,559.17 848.91,559.89 849.22,560.61 849.53,561.33 849.84,562.05 850.15,562.77 850.46,563.5 850.77,564.22 851.08,564.94 851.39,565.67 851.7,566.39 852.01,567.11 852.31,567.84 852.62,568.56 852.93,569.29 853.23,570.02 853.54,570.74 853.84,571.47 854.14,572.2 854.44,572.92 854.75,573.65 855.05,574.38 855.35,575.11 855.65,575.84 855.95,576.57 856.25,577.3 856.54,578.03 856.84,578.76 857.14,579.49 857.43,580.22 857.73,580.95 858.02,581.68 858.32,582.42 858.61,583.15 858.91,583.88 859.2,584.62 859.49,585.35 859.78,586.08 860.07,586.82 860.36,587.55 860.65,588.29 860.94,589.02 861.23,589.76 861.51,590.5 861.8,591.23 862.09,591.97 862.37,592.71 862.66,593.45 862.94,594.19 863.23,594.92 863.51,595.66 863.79,596.4 864.07,597.14 864.35,597.88 864.63,598.62 864.91,599.36 865.19,600.11 865.47,600.85 865.75,601.59 866.03,602.33 866.3,603.07 866.58,603.82 866.85,604.56 867.13,605.31 867.4,606.05 867.68,606.79 867.95,607.54 868.22,608.28 868.49,609.03 868.76,609.77 869.03,610.52 869.3,611.27 869.57,612.01 869.84,612.76 870.11,613.51 870.38,614.26 870.64,615.01 870.91,615.75 871.17,616.5 871.44,617.25 871.7,618 871.96,618.75 872.23,619.5 872.49,620.25 872.75,621 873.01,621.76 873.27,622.51 873.53,623.26 873.79,624.01 874.05,624.76 874.3,625.52 874.56,626.27 874.82,627.02 875.07,627.78 875.33,628.53 875.58,629.29 875.83,630.04 876.09,630.8 876.34,631.55 876.59,632.31 876.84,633.06 877.09,633.82 877.34,634.58 877.59,635.33 877.84,636.09 878.09,636.85 878.33,637.61 878.58,638.37 878.82,639.13 879.07,639.88 879.31,640.64 879.56,641.4 879.8,642.16 880.04,642.92 880.28,643.68 880.53,644.45 880.77,645.21 881.01,645.97 881.25,646.73 881.48,647.49 881.72,648.25 881.96,649.02 882.2,649.78 882.43,650.54 882.67,651.31 882.9,652.07 883.13,652.84 883.37,653.6 883.6,654.37 883.83,655.13 884.06,655.9 884.29,656.66 884.52,657.43 884.75,658.19 884.98,658.96 885.21,659.73 885.44,660.5 885.66,661.26 885.89,662.03 886.12,662.8 886.34,663.57 886.56,664.34 886.79,665.1 887.01,665.87 887.23,666.64 887.45,667.41 887.67,668.18 887.9,668.95 888.11,669.72 888.33,670.5 888.55,671.27 888.77,672.04 888.99,672.81 889.2,673.58 889.42,674.35 889.63,675.13 889.85,675.9 890.06,676.67 890.27,677.45 890.48,678.22 890.7,678.99 890.91,679.77 891.12,680.54 891.33,681.32 891.54,682.09 891.74,682.87 891.95,683.64 892.16,684.42 892.36,685.2 892.57,685.97 892.77,686.75 892.98,687.53 893.18,688.3 893.38,689.08 893.59,689.86 893.79,690.64 893.99,691.41 894.19,692.19 894.39,692.97 894.59,693.75 894.79,694.53 894.98,695.31 895.18,696.09 895.38,696.87 895.57,697.65 895.77,698.43 895.96,699.21 896.15,699.99 896.35,700.77 896.54,701.55 896.73,702.34 896.92,703.12 897.11,703.9 897.3,704.68 897.49,705.46 897.68,706.25 897.87,707.03 898.05,707.81 898.24,708.6 898.42,709.38 898.61,710.17 898.79,710.95 898.98,711.73 899.16,712.52 899.34,713.3 899.52,714.09 899.7,714.88 899.88,715.66 900.06,716.45 900.24,717.23 900.42,718.02 900.6,718.81 900.77,719.59 900.95,720.38 901.12,721.17 901.3,721.96 901.47,722.74 901.65,723.53 901.82,724.32 901.99,725.11 902.16,725.9 902.33,726.69 902.5,727.47 902.67,728.26 902.84,729.05 903.01,729.84 903.18,730.63 903.34,731.42 903.51,732.21 903.67,733 903.84,733.8 904,734.59 904.16,735.38 904.33,736.17 904.49,736.96 904.65,737.75 904.81,738.55 904.97,739.34 905.13,740.13 905.29,740.92 905.45,741.72 905.6,742.51 905.76,743.3 905.91,744.1 906.07,744.89 906.22,745.68 906.38,746.48 906.53,747.27 906.68,748.07 906.83,748.86 906.98,749.66 907.13,750.45 907.28,751.25 907.43,752.04 907.58,752.84 907.73,753.63 907.88,754.43 908.02,755.22 908.17,756.02 908.31,756.82 908.46,757.61 908.6,758.41 908.74,759.21 908.88,760.01 909.03,760.8 909.17,761.6 909.31,762.4 909.45,763.2 909.58,764 909.72,764.79 909.86,765.59 910,766.39 910.13,767.19 910.27,767.99 910.4,768.79 910.54,769.59 910.67,770.39 910.8,771.19 910.93,771.99 911.06,772.79 911.19,773.59 911.32,774.39 911.45,775.19 911.58,775.99 911.71,776.79 911.84,777.59 911.96,778.39 912.09,779.19 912.21,780 912.34,780.8 912.46,781.6 912.58,782.4 912.7,783.2 912.83,784.01 912.95,784.81 913.07,785.61 913.19,786.41 913.3,787.22 913.42,788.02 913.54,788.82 913.66,789.63 913.77,790.43 913.89,791.23 914,792.04 914.12,792.84 914.23,793.65 914.34,794.45 914.45,795.25 914.56,796.06 914.68,796.86 914.79,797.67 914.89,798.47 915,799.28 915.11,800.08 915.22,800.89 915.32,801.7 915.43,802.5 915.53,803.31 915.64,804.11 915.74,804.92 915.84,805.73 915.95,806.53 916.05,807.34 916.15,808.14 916.25,808.95 916.35,809.76 916.45,810.57 916.54,811.37 916.64,812.18 916.74,812.99 916.83,813.79 916.93,814.6 917.02,815.41 917.12,816.22 917.21,817.03 917.3,817.83 917.4,818.64 917.49,819.45 917.58,820.26 917.67,821.07 917.76,821.88 917.84,822.69 917.93,823.49 918.02,824.3 918.1,825.11 918.19,825.92 918.27,826.73 918.36,827.54 918.44,828.35 918.52,829.16 918.61,829.97 918.69,830.78 918.77,831.59 918.85,832.4 918.93,833.21 919.01,834.02 919.08,834.83 919.16,835.64 919.24,836.45 919.31,837.26 919.39,838.07 919.46,838.88 919.54,839.7 919.61,840.51 919.68,841.32 919.75,842.13 919.82,842.94 919.89,843.75 919.96,844.56 920.03,845.37 920.1,846.19 920.17,847 920.24,847.81 920.3,848.62 920.37,849.43 920.43,850.25 920.49,851.06 920.56,851.87 920.62,852.68 920.68,853.5 920.74,854.31 920.8,855.12 920.86,855.93 920.92,856.75 920.98,857.56 921.04,858.37 921.1,859.19 921.15,860 921.21,860.81 921.26,861.62 921.32,862.44 921.37,863.25 921.42,864.06 921.48,864.88 921.53,865.69 921.58,866.51 921.63,867.32 921.68,868.13 921.73,868.95 921.77,869.76 921.82,870.57 921.87,871.39 921.91,872.2 921.96,873.02 922,873.83 922.05,874.65 922.09,875.46 922.13,876.27 922.17,877.09 922.21,877.9 922.25,878.72 922.29,879.53 922.33,880.35 922.37,881.16 922.41,881.98 922.44,882.79 922.48,883.61 922.52,884.42 922.55,885.23 922.58,886.05 922.62,886.86 922.65,887.68 922.68,888.49 922.71,889.31 922.74,890.12 922.77,890.94 922.8,891.76 922.83,892.57 922.86,893.39 922.89,894.2 922.91,895.02 922.94,895.83 922.96,896.65 922.99,897.46 923.01,898.28 923.03,899.09 923.05,899.91 923.08,900.72 923.1,901.54 923.12,902.36 923.14,903.17 923.15,903.99 923.17,904.8 923.19,905.62 923.21,906.43 923.22,907.25 923.24,908.07 923.25,908.88 923.26,909.7 923.28,910.51 923.29,911.33 923.3,912.15 923.31,912.96 923.32,913.78 923.33,914.59 923.34,915.41 923.35,916.22 923.36,917.04 923.36,917.86 923.37,918.67 923.37,919.49 923.38,920.3 923.38,921.12 923.38,921.94 923.39,922.75 923.39,923.57 923.39,924.38 923.39,925.2 1267.65,925.2" fill="none" stroke="#f00" stroke-width="3.75" stroke-dasharray="3.75 30 45 30"/>
<polyline points="1267.65,925.2 1852.02,925.2" fill="none" stroke="#f00" stroke-width="3.75" stroke-dasharray="3.75 30 45 30"/>
<path d="M280.6 429.8H325.6M303.1 407.3V452.3M287.19 413.89L319.01 445.71M287.19 445.71L319.01 413.89M314.8 429.8H359.8M337.3 407.3V452.3M321.39 413.89L353.21 445.71M321.39 445.71L353.21 413.89M349.8 443.7H394.8M372.3 421.2V466.2M356.39 427.79L388.21 459.61M356.39 459.61L388.21 427.79M384.8 465.2H429.8M407.3 442.7V487.7M391.39 449.29L423.21 481.11M391.39 481.11L423.21 449.29M420.6 498.9H465.6M443.1 476.4V521.4M427.19 482.99L459.01 514.81M427.19 514.81L459.01 482.99M457 548.5H502M479.5 526V571M463.59 532.59L495.41 564.41M463.59 564.41L495.41 532.59M492.4 627.1H537.4M514.9 604.6V649.6M498.99 611.19L530.81 643.01M498.99 643.01L530.81 611.19M529.3 783.3H574.3M551.8 760.8V805.8M535.89 767.39L567.71 799.21M535.89 799.21L567.71 767.39M566.3 925.2H611.3M588.8 902.7V947.7M572.89 909.29L604.71 941.11M572.89 941.11L604.71 909.29M603.3 925.2H648.3M625.8 902.7V947.7M609.89 909.29L641.71 941.11M609.89 941.11L641.71 909.29M641.6 925.2H686.6M664.1 902.7V947.7M648.19 909.29L680.01 941.11M648.19 941.11L680.01 909.29M679.5 925.2H724.5M702 902.7V947.7M686.09 909.29L717.91 941.11M686.09 941.11L717.91 909.29M718.4 925.2H763.4M740.9 902.7V947.7M724.99 909.29L756.81 941.11M724.99 941.11L756.81 909.29M757 925.2H802M779.5 902.7V947.7M763.59 909.29L795.41 941.11M763.59 941.11L795.41 909.29M796.7 925.2H841.7M819.2 902.7V947.7M803.29 909.29L835.11 941.11M803.29 941.11L835.11 909.29M836.3 925.2H881.3M858.8 902.7V947.7M842.89 909.29L874.71 941.11M842.89 941.11L874.71 909.29" stroke="#0072bd" stroke-width="3.75" fill="none"/>
<polyline points="286.1,433.71 305.67,435.66 325.25,441.51 344.82,451.27 364.4,464.93 383.97,482.5 403.54,503.96 423.12,529.33 442.69,558.6 462.27,591.78 481.84,628.86 501.41,669.84 520.99,714.72 540.56,763.51 560.14,816.2 579.71,872.79 599.28,925.2 618.86,925.2 638.43,925.2 658.01,925.2 677.58,925.2 697.15,925.2 716.73,925.2 736.3,925.2 755.88,925.2 775.45,925.2 795.02,925.2 814.6,925.2 834.17,925.2 853.75,925.2 873.32,925.2 892.89,925.2 912.47,925.2 932.04,925.2 951.62,925.2 971.19,925.2 990.76,925.2 1010.34,925.2 1029.91,925.2 1049.49,925.2 1069.06,925.2 1088.63,925.2 1108.21,925.2 1127.78,925.2 1147.36,925.2 1166.93,925.2 1186.5,925.2 1206.08,925.2 1225.65,925.2 1245.23,925.2 1264.8,925.2 1284.37,925.2 1303.95,925.2 1323.52,925.2 1343.1,925.2 1362.67,925.2 1382.24,925.2 1401.82,925.2 1421.39,925.2 1440.97,925.2 1460.54,925.2 1480.11,925.2 1499.69,925.2 1519.26,925.2 1538.84,925.2 1558.41,925.2 1577.98,925.2 1597.56,925.2 1617.13,925.2 1636.71,925.2 1656.28,925.2 1675.85,925.2 1695.43,925.2 1715,925.2 1734.58,925.2 1754.15,925.2 1773.72,925.2 1793.3,925.2 1812.87,925.2 1832.45,925.2 1852.02,925.2" fill="none" stroke="#00f" stroke-width="3.75" stroke-dasharray="45 45"/>
<polyline points="286.1,433.71 305.67,436.48 325.25,444.79 344.82,458.64 364.4,478.03 383.97,502.96 403.54,533.43 423.12,569.45 442.69,611 462.27,658.09 481.84,710.73 501.41,768.9 520.99,832.61 540.56,901.87 560.14,925.2 579.71,925.2 599.28,925.2 618.86,925.2 638.43,925.2 658.01,925.2 677.58,925.2 697.15,925.2 716.73,925.2 736.3,925.2 755.88,925.2 775.45,925.2 795.02,925.2 814.6,925.2 834.17,925.2 853.75,925.2 873.32,925.2 892.89,925.2 912.47,925.2 932.04,925.2 951.62,925.2 971.19,925.2 990.76,925.2 1010.34,925.2 1029.91,925.2 1049.49,925.2 1069.06,925.2 1088.63,925.2 1108.21,925.2 1127.78,925.2 1147.36,925.2 1166.93,925.2 1186.5,925.2 1206.08,925.2 1225.65,925.2 1245.23,925.2 1264.8,925.2 1284.37,925.2 1303.95,925.2 1323.52,925.2 1343.1,925.2 1362.67,925.2 1382.24,925.2 1401.82,925.2 1421.39,925.2 1440.97,925.2 1460.54,925.2 1480.11,925.2 1499.69,925.2 1519.26,925.2 1538.84,925.2 1558.41,925.2 1577.98,925.2 1597.56,925.2 1617.13,925.2 1636.71,925.2 1656.28,925.2 1675.85,925.2 1695.43,925.2 1715,925.2 1734.58,925.2 1754.15,925.2 1773.72,925.2 1793.3,925.2 1812.87,925.2 1832.45,925.2 1852.02,925.2" fill="none" stroke="#00f" stroke-width="3.75" stroke-dasharray="3.75 30 45 30"/>
<text class="b" transform="translate(529.2 108.9) scale(1.0 1.06)" text-anchor="start">N</text>
<text class="b" transform="translate(576.7 141.9) scale(1.0 1.0)" text-anchor="start" style="font-size:54px">p</text>
<text class="b" transform="translate(628.3 109.4) scale(1.008 0.87)" text-anchor="start" stroke="#000" stroke-width="2.3">=</text>
<text class="b" transform="translate(685.5 109) scale(1.0 1.05)" text-anchor="start">5</text>
<text class="b" transform="translate(363.2 385.4) scale(1.0 1.06)" text-anchor="start">N</text>
<text class="b" transform="translate(410.7 418.4) scale(1.0 1.0)" text-anchor="start" style="font-size:54px">p</text>
<text class="b" transform="translate(462.3 385.9) scale(1.008 0.87)" text-anchor="start" stroke="#000" stroke-width="2.3">=</text>
<text class="b" transform="translate(519.5 385.5) scale(1.0 1.05)" text-anchor="start">3</text>
<path d="M1205.2 67.8H1250.2M1227.7 45.3V90.3M1211.79 51.89L1243.61 83.71M1211.79 83.71L1243.61 51.89" stroke="#7e2f8e" stroke-width="3.75" fill="none"/>
<path d="M1115.6 191.7H1341" stroke="#f00" stroke-width="3.75" stroke-dasharray="45 45" fill="none"/>
<path d="M1115.6 314.8H1341" stroke="#f00" stroke-width="3.75" stroke-dasharray="3.75 30 45 30" fill="none"/>
<text class="t" transform="translate(1363.2 94.6) scale(1.0 1.04)" text-anchor="start">SPEC</text>
<text class="t" transform="translate(1363.2 219.1) scale(1.0 1.03)" text-anchor="start">HBS (solovev)</text>
<text class="t" transform="translate(1363.2 343) scale(1.0 1.03)" text-anchor="start">HBS (sharp)</text>
</svg></body></html>
